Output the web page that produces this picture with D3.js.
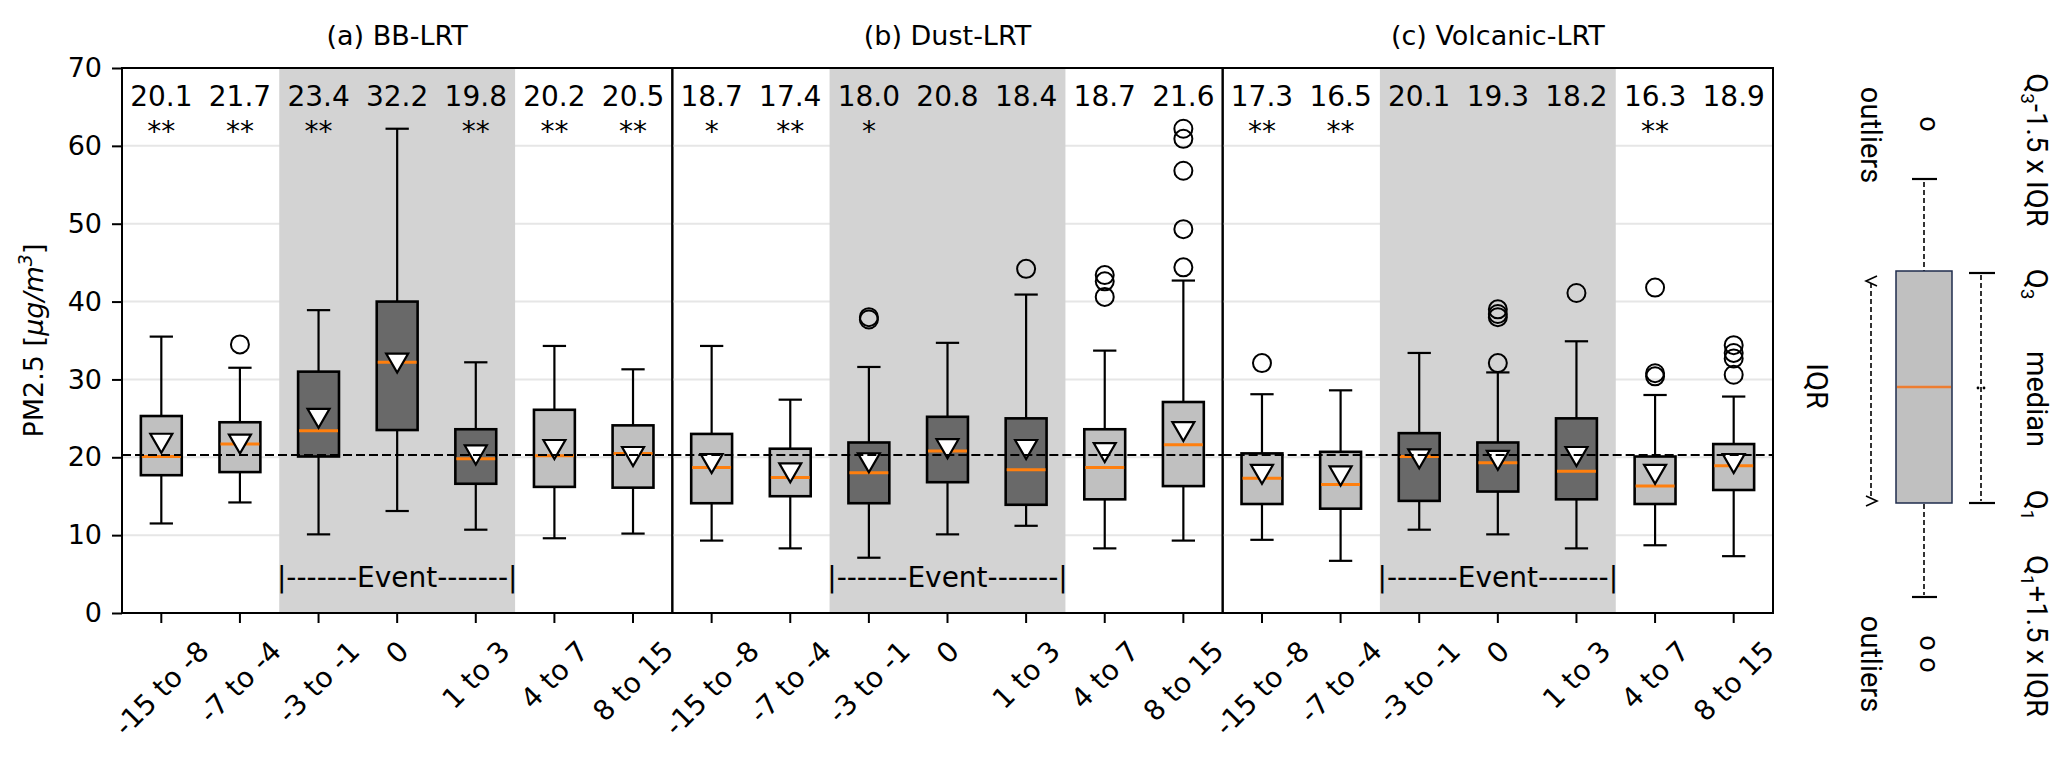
<!DOCTYPE html>
<html>
<head>
<meta charset="utf-8">
<script src="https://cdn.jsdelivr.net/npm/d3@7"></script>
<style>
  body { margin: 0; background: #fff; }
  text { fill: #000; }
</style>
</head>
<body>
<div class="canvas"></div>
<script>
// categories and panels
const categories = ["-15 to -8", "-7 to -4", "-3 to -1", "0", "1 to 3", "4 to 7", "8 to 15"];
const panelTitles = ["(a) BB-LRT", "(b) Dust-LRT", "(c) Volcanic-LRT"];
const eventCats = ["-3 to -1", "0", "1 to 3"];
const yTicks = [0, 10, 20, 30, 40, 50, 60, 70];
const refLine = 20.3;

// box statistics, one row per panel
const whiskerLow = [
    [11.5, 14.2, 10.1, 13.1, 10.7, 9.6, 10.2],
    [9.3, 8.3, 7.1, 10.1, 11.2, 8.3, 9.3],
    [9.4, 6.7, 10.7, 10.1, 8.3, 8.7, 7.3]
];
const q1 = [
    [17.7, 18.1, 20.1, 23.5, 16.6, 16.2, 16.1],
    [14.1, 15.0, 14.1, 16.8, 13.9, 14.6, 16.3],
    [14.0, 13.4, 14.4, 15.6, 14.6, 14.0, 15.8]
];
const medians = [
    [20.1, 21.7, 23.4, 32.2, 19.8, 20.2, 20.5],
    [18.7, 17.4, 18.0, 20.8, 18.4, 18.7, 21.6],
    [17.3, 16.5, 20.1, 19.3, 18.2, 16.3, 18.9]
];
const q3 = [
    [25.3, 24.5, 31.0, 40.0, 23.6, 26.1, 24.1],
    [23.0, 21.1, 21.9, 25.2, 25.0, 23.6, 27.1],
    [20.5, 20.7, 23.1, 21.9, 25.0, 20.1, 21.7]
];
const whiskerHigh = [
    [35.5, 31.5, 38.9, 62.2, 32.2, 34.3, 31.3],
    [34.3, 27.4, 31.6, 34.7, 40.9, 33.7, 42.7],
    [28.1, 28.6, 33.4, 30.9, 34.9, 28.0, 27.8]
];
const means = [
    [21.8, 21.7, 25.0, 32.1, 20.3, 21.0, 20.1],
    [19.2, 18.0, 19.3, 21.1, 21.0, 20.6, 23.3],
    [17.8, 17.6, 19.8, 19.6, 20.1, 17.8, 19.2]
];
const outliers = [
    [[], [34.5], [], [], [], [], []],
    [[], [], [38.0, 37.7], [], [44.2], [43.4, 42.6, 40.6], [62.2, 60.9, 56.8, 49.3, 44.4]],
    [[32.1], [], [], [39.0, 38.4, 38.0, 32.1], [41.1], [41.8, 30.8, 30.4], [34.4, 33.4, 32.7, 30.6]]
];
const stars = [
    ["**", "**", "**", "", "**", "**", "**"],
    ["*", "**", "*", "", "", "", ""],
    ["**", "**", "", "", "", "**", ""]
];

const W = 2067, H = 761;
const plot = { left: 122, right: 1773, top: 68, bottom: 613 };
const mainFont = 'DejaVu Sans';
const legendFont = 'Roboto';

const svg = d3.select('.canvas').append('svg')
    .attr('width', W)
    .attr('height', H)
    .style('display', 'block')
    .style('font-family', mainFont)

svg.append('rect').attr('width', W).attr('height', H).attr('fill', '#fff')

const y = d3.scaleLinear().domain([0, 70]).range([plot.bottom, plot.top])
const px = d3.scaleBand().domain(panelTitles).range([plot.left, plot.right])
const x = d3.scaleBand().domain(categories).range([0, px.bandwidth()])

const boxW = x.bandwidth() * 0.52
const capW = boxW * 0.57

panelTitles.forEach((title, p) => {
    const g = svg.append('g').attr('transform', `translate(${px(title)}, 0)`)
    const pw = px.bandwidth()
    const evX = x(eventCats[0])
    const evW = x(eventCats[eventCats.length - 1]) + x.bandwidth() - evX

    // gridlines
    g.append('g')
        .selectAll('line')
        .data(yTicks.filter(t => t > 0 && t < 70))
        .enter()
        .append('line')
        .attr('x1', 0).attr('x2', pw)
        .attr('y1', d => y(d)).attr('y2', d => y(d))
        .attr('stroke', '#e6e6e6')
        .attr('stroke-width', 2)

    // event shading
    g.append('rect')
        .attr('x', evX)
        .attr('y', plot.top)
        .attr('width', evW)
        .attr('height', plot.bottom - plot.top)
        .attr('fill', '#d3d3d3')

    // event label
    g.append('text')
        .attr('x', evX + evW / 2)
        .attr('y', 587)
        .attr('text-anchor', 'middle')
        .attr('font-size', 28)
        .text('|-------Event-------|')

    const boxes = g.selectAll('g.box')
        .data(categories)
        .enter()
        .append('g')
        .attr('class', 'box')
        .attr('transform', d => `translate(${x(d) + x.bandwidth() / 2}, 0)`)

    // whiskers
    boxes.append('line')
        .attr('y1', (d, i) => y(whiskerHigh[p][i]))
        .attr('y2', (d, i) => y(q3[p][i]))
        .attr('stroke', '#000').attr('stroke-width', 2.2)
    boxes.append('line')
        .attr('y1', (d, i) => y(q1[p][i]))
        .attr('y2', (d, i) => y(whiskerLow[p][i]))
        .attr('stroke', '#000').attr('stroke-width', 2.2)
    // caps
    boxes.append('line')
        .attr('x1', -capW / 2).attr('x2', capW / 2)
        .attr('y1', (d, i) => y(whiskerHigh[p][i]))
        .attr('y2', (d, i) => y(whiskerHigh[p][i]))
        .attr('stroke', '#000').attr('stroke-width', 2.2)
    boxes.append('line')
        .attr('x1', -capW / 2).attr('x2', capW / 2)
        .attr('y1', (d, i) => y(whiskerLow[p][i]))
        .attr('y2', (d, i) => y(whiskerLow[p][i]))
        .attr('stroke', '#000').attr('stroke-width', 2.2)

    // boxes
    boxes.append('rect')
        .attr('x', -boxW / 2)
        .attr('width', boxW)
        .attr('y', (d, i) => y(q3[p][i]))
        .attr('height', (d, i) => y(q1[p][i]) - y(q3[p][i]))
        .attr('fill', d => eventCats.includes(d) ? '#696969' : '#c0c0c0')
        .attr('stroke', '#000')
        .attr('stroke-width', 2.6)

    // outliers
    boxes.each(function (d, i) {
        d3.select(this).selectAll('circle')
            .data(outliers[p][i])
            .enter()
            .append('circle')
            .attr('cy', v => y(v))
            .attr('r', 9)
            .attr('fill', 'none')
            .attr('stroke', '#000')
            .attr('stroke-width', 2)
    })

    // medians
    boxes.append('line')
        .attr('x1', -boxW / 2 + 1).attr('x2', boxW / 2 - 1)
        .attr('y1', (d, i) => y(medians[p][i]))
        .attr('y2', (d, i) => y(medians[p][i]))
        .attr('stroke', '#ff7f0e').attr('stroke-width', 3)

    // reference line
    g.append('line')
        .attr('x1', 0).attr('x2', pw)
        .attr('y1', y(refLine)).attr('y2', y(refLine))
        .attr('stroke', '#000')
        .attr('stroke-width', 2)
        .attr('stroke-dasharray', '9,4')

    // mean markers
    boxes.append('path')
        .attr('d', 'M-11,-9.5L11,-9.5L0,9.5Z')
        .attr('transform', (d, i) => `translate(0, ${y(means[p][i])})`)
        .attr('fill', '#fff')
        .attr('stroke', '#000')
        .attr('stroke-width', 2.2)

    // median value labels and significance
    boxes.append('text')
        .attr('y', 106)
        .attr('text-anchor', 'middle')
        .attr('font-size', 28)
        .text((d, i) => medians[p][i].toFixed(1))
    boxes.append('text')
        .attr('y', 141)
        .attr('text-anchor', 'middle')
        .attr('font-size', 28)
        .text((d, i) => stars[p][i])

    // frame
    g.append('rect')
        .attr('x', 0).attr('y', plot.top)
        .attr('width', pw).attr('height', plot.bottom - plot.top)
        .attr('fill', 'none')
        .attr('stroke', '#000')
        .attr('stroke-width', 2)

    // bottom ticks
    const xAxis = d3.axisBottom(x).tickSize(10).tickFormat('')
    g.append('g')
        .attr('transform', `translate(0, ${plot.bottom})`)
        .call(xAxis)
        .call(a => a.select('.domain').remove())
        .selectAll('line').attr('stroke-width', 2)

    // rotated tick labels, centred under each tick
    boxes.append('text')
        .attr('font-size', 28)
        .attr('text-anchor', 'middle')
        .attr('dy', '0.35em')
        .text(d => d)
        .each(function () {
            const len = this.getComputedTextLength()
            const cy = 636 + (len + 28) * 0.7071 / 2
            d3.select(this).attr('transform', `translate(0, ${cy}) rotate(-45)`)
        })

    // panel title
    g.append('text')
        .attr('x', pw / 2)
        .attr('y', 45)
        .attr('text-anchor', 'middle')
        .attr('font-size', 27)
        .text(title)
})

// y axis
const yAxis = d3.axisLeft(y).tickValues(yTicks).tickSize(10).tickPadding(10)
const yAxisGroup = svg.append('g')
    .attr('transform', `translate(${plot.left}, 0)`)
    .call(yAxis)
yAxisGroup.select('.domain').remove()
yAxisGroup.selectAll('line').attr('stroke-width', 2)
yAxisGroup.selectAll('text')
    .attr('font-size', 27)
    .attr('font-family', mainFont)
    .attr('fill', '#000')

const yLabel = svg.append('text')
    .attr('transform', `translate(43, ${(plot.top + plot.bottom) / 2}) rotate(-90)`)
    .attr('text-anchor', 'middle')
    .attr('font-size', 27)
yLabel.append('tspan').text('PM2.5 [')
yLabel.append('tspan').attr('font-style', 'italic').text('μg/m')
yLabel.append('tspan').attr('font-style', 'italic').attr('font-size', 19).attr('dy', -11).text('3')
yLabel.append('tspan').attr('dy', 11).text(']')

// explanatory legend on the right
const lg = svg.append('g')
const lx = 1924
const dash = '5,3'

lg.append('line').attr('x1', lx).attr('x2', lx).attr('y1', 182).attr('y2', 271)
    .attr('stroke', '#000').attr('stroke-width', 1.6).attr('stroke-dasharray', dash)
lg.append('line').attr('x1', lx).attr('x2', lx).attr('y1', 504).attr('y2', 595)
    .attr('stroke', '#000').attr('stroke-width', 1.6).attr('stroke-dasharray', dash)
lg.append('line').attr('x1', lx - 12).attr('x2', lx + 13).attr('y1', 179).attr('y2', 179)
    .attr('stroke', '#000').attr('stroke-width', 2.2)
lg.append('line').attr('x1', lx - 12).attr('x2', lx + 13).attr('y1', 597).attr('y2', 597)
    .attr('stroke', '#000').attr('stroke-width', 2.2)
lg.append('rect').attr('x', 1896).attr('y', 271).attr('width', 56).attr('height', 232)
    .attr('fill', '#c0c0c0').attr('stroke', '#1f2d4d').attr('stroke-width', 1.5)
lg.append('line').attr('x1', 1897).attr('x2', 1951).attr('y1', 387).attr('y2', 387)
    .attr('stroke', '#ed7d31').attr('stroke-width', 2.5)

// IQR arrow
lg.append('line').attr('x1', 1871).attr('x2', 1871).attr('y1', 283).attr('y2', 499)
    .attr('stroke', '#000').attr('stroke-width', 1.6).attr('stroke-dasharray', dash)
lg.append('path').attr('d', 'M1877,276L1866,281L1877,286').attr('fill', 'none').attr('stroke', '#000').attr('stroke-width', 1.6)
lg.append('path').attr('d', 'M1866,496L1877,501L1866,506').attr('fill', 'none').attr('stroke', '#000').attr('stroke-width', 1.6)

// right bracket
lg.append('line').attr('x1', 1981).attr('x2', 1981).attr('y1', 275).attr('y2', 501)
    .attr('stroke', '#000').attr('stroke-width', 1.6).attr('stroke-dasharray', dash)
lg.append('line').attr('x1', 1969).attr('x2', 1995).attr('y1', 273).attr('y2', 273)
    .attr('stroke', '#000').attr('stroke-width', 2.2)
lg.append('line').attr('x1', 1969).attr('x2', 1995).attr('y1', 503).attr('y2', 503)
    .attr('stroke', '#000').attr('stroke-width', 2.2)
lg.append('circle').attr('cx', 1978).attr('cy', 388).attr('r', 1.4).attr('fill', '#000')
lg.append('circle').attr('cx', 1984).attr('cy', 388).attr('r', 1.4).attr('fill', '#000')

const rotText = (bx, cy, size) => lg.append('text')
    .attr('transform', `translate(${bx}, ${cy}) rotate(90)`)
    .attr('text-anchor', 'middle')
    .attr('font-size', size || 29)
    .style('font-family', legendFont)

rotText(1861, 135).text('outliers')
rotText(1861, 664).text('outliers')
rotText(1807, 386).text('IQR')
rotText(1920, 124, 27).text('o')
rotText(1920, 654, 27).text('o o')
rotText(2027, 399).text('median')

const q3t = rotText(2027, 150)
q3t.append('tspan').text('Q')
q3t.append('tspan').attr('font-size', 19).attr('dy', 6).text('3')
q3t.append('tspan').attr('dy', -6).text('-1.5 x IQR')

const q3s = rotText(2027, 284)
q3s.append('tspan').text('Q')
q3s.append('tspan').attr('font-size', 19).attr('dy', 6).text('3')

const q1s = rotText(2027, 505)
q1s.append('tspan').text('Q')
q1s.append('tspan').attr('font-size', 19).attr('dy', 6).text('1')

const q1t = rotText(2027, 636)
q1t.append('tspan').text('Q')
q1t.append('tspan').attr('font-size', 19).attr('dy', 6).text('1')
q1t.append('tspan').attr('dy', -6).text('+1.5 x IQR')
</script>
</body>
</html>
